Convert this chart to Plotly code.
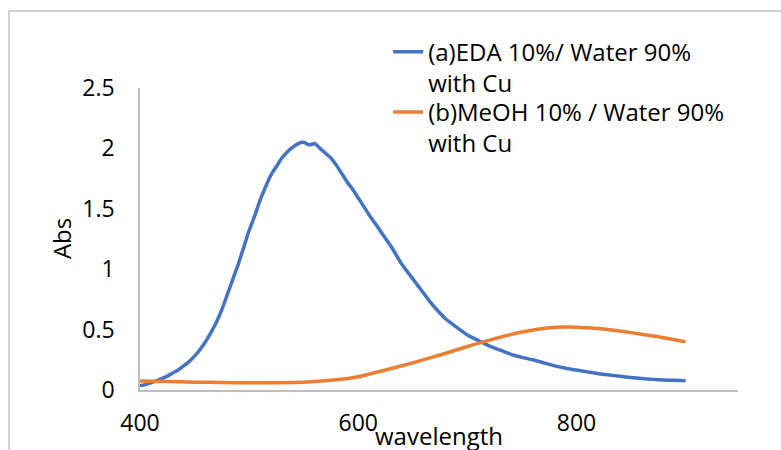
import plotly.graph_objects as go

# Series A: EDA 10% / Water 90% with Cu
wl_a = [400, 405, 410, 415, 420, 425, 430, 435, 440, 445, 450, 455, 460, 465, 470,
        475, 480, 485, 490, 495, 500, 505, 510, 515, 520, 525, 530, 535, 540, 545,
        550, 555, 560, 565, 570, 575, 580, 585, 590, 595, 600, 605, 610, 615, 620,
        625, 630, 635, 640, 645, 650, 655, 660, 665, 670, 675, 680, 685, 690, 695,
        700, 710, 720, 730, 740, 750, 760, 770, 780, 790, 800, 810, 820, 830, 840,
        850, 860, 870, 880, 890, 900]
abs_a = [0.035, 0.045, 0.06, 0.075, 0.095, 0.115, 0.14, 0.165, 0.20, 0.235, 0.28, 0.335, 0.40, 0.475, 0.56,
         0.665, 0.79, 0.915, 1.04, 1.18, 1.32, 1.44, 1.57, 1.68, 1.78, 1.85, 1.92, 1.97, 2.01, 2.04,
         2.05, 2.03, 2.04, 2.0, 1.96, 1.92, 1.86, 1.79, 1.72, 1.66, 1.59, 1.52, 1.45, 1.385, 1.32,
         1.255, 1.19, 1.115, 1.04, 0.98, 0.92, 0.86, 0.80, 0.74, 0.685, 0.635, 0.59, 0.555, 0.52, 0.487,
         0.455, 0.41, 0.365, 0.33, 0.295, 0.27, 0.25, 0.225, 0.20, 0.18, 0.165, 0.15, 0.135, 0.125, 0.113,
         0.103, 0.095, 0.088, 0.083, 0.08, 0.077]

# Series B: MeOH 10% / Water 90% with Cu
wl_b = [400, 425, 450, 475, 500, 525, 550, 575, 600, 625, 650, 675, 700, 725, 750,
        775, 790, 800, 825, 850, 875, 900]
abs_b = [0.075, 0.07, 0.065, 0.062, 0.06, 0.061, 0.065, 0.08, 0.11, 0.165, 0.225, 0.29, 0.36, 0.425, 0.48,
         0.515, 0.522, 0.52, 0.505, 0.475, 0.44, 0.40]

name_a = "(a)EDA 10%/ Water 90%<br>with Cu"
name_b = "(b)MeOH 10% / Water 90%<br>with Cu"

x_ticks = [400, 600, 800]
y_ticks = [0, 0.5, 1, 1.5, 2, 2.5]
y_tick_text = ["0", "0.5", "1", "1.5", "2", "2.5"]

FONT = "Open Sans"
FS_TICK = 23
FS_TEXT = 24

legend_style = dict(xanchor="left", yanchor="top", bgcolor="rgba(0,0,0,0)",
                    font=dict(family=FONT, size=FS_TEXT, color="black"),
                    valign="top", itemclick=False)

fig = go.Figure()
fig.add_trace(go.Scatter(x=wl_a, y=abs_a, mode="lines", name=name_a, legend="legend",
                         line=dict(color="#4472C4", width=3.5, shape="spline", smoothing=0.5)))
fig.add_trace(go.Scatter(x=wl_b, y=abs_b, mode="lines", name=name_b, legend="legend2",
                         line=dict(color="#ED7D31", width=3.5, shape="spline", smoothing=0.6)))

fig.update_layout(
    width=781, height=450,
    margin=dict(l=140, r=43, t=88, b=60),
    paper_bgcolor="white", plot_bgcolor="white",
    font=dict(family=FONT, size=FS_TICK, color="black"),
    showlegend=True,
    legend=dict(x=0.415, y=1.193, **legend_style),
    legend2=dict(x=0.415, y=0.994, **legend_style),
    xaxis=dict(range=[400, 948], tickvals=x_ticks, showgrid=False, zeroline=False,
               showline=True, linecolor="#BFBFBF", linewidth=1.5, ticks="", automargin=False,
               ticklabelstandoff=12, tickfont=dict(size=FS_TICK)),
    yaxis=dict(range=[0, 2.5], tickvals=y_ticks, ticktext=y_tick_text, showgrid=False,
               zeroline=False, showline=True, linecolor="#BFBFBF", linewidth=1.5, ticks="",
               automargin=False, ticklabelstandoff=19, tickfont=dict(size=FS_TICK)),
    annotations=[
        dict(text="wavelength", xref="paper", yref="paper", x=0.5, y=-0.15,
             xanchor="center", yanchor="middle", showarrow=False,
             font=dict(family=FONT, size=FS_TEXT, color="black")),
        dict(text="Abs", xref="paper", yref="paper", x=-0.132, y=0.5, textangle=-90,
             xanchor="center", yanchor="middle", showarrow=False,
             font=dict(family=FONT, size=FS_TEXT, color="black")),
    ],
    shapes=[
        dict(type="line", xref="paper", yref="paper", x0=-0.219, x1=1.2, y0=1.255, y1=1.255,
             line=dict(color="#C0C0C0", width=1.5)),
        dict(type="line", xref="paper", yref="paper", x0=-0.219, x1=-0.219, y0=1.255, y1=-0.3,
             line=dict(color="#C0C0C0", width=1.5)),
    ],
)

fig.write_html("out.html")
